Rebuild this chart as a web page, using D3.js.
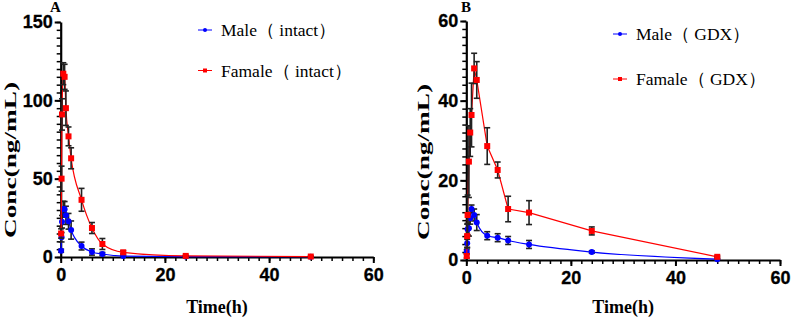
<!DOCTYPE html>
<html>
<head>
<meta charset="utf-8">
<script src="https://cdn.jsdelivr.net/npm/d3@7"></script>
<style>
  body { margin: 0; background: #fff; }
  .axis path, .axis line { stroke: #000; }
  .tick-label text { font-family: "Liberation Sans", Arial, sans-serif; font-weight: bold; font-size: 18px; fill: #000; stroke: #000; stroke-width: 0.3px; }
  .title { font-family: "Liberation Serif", "Times New Roman", serif; font-weight: bold; fill: #000; }
  .legend text { font-family: "Liberation Serif", "Times New Roman", serif; font-size: 17.5px; fill: #000; }
</style>
</head>
<body>
<div id="chart"></div>
<script>
// sampling times (h), same for both panels
const timePoints = [0.083, 0.167, 0.25, 0.5, 0.75, 1, 1.5, 2, 4, 6, 8, 12, 24, 48];

// panel A - intact rats
const maleIntact     = [4.0, 12.6, 22.5, 30.6, 30.4, 26.6, 22.8, 17.2, 7.0, 3.2, 1.9, 0.6, 0.3, 0.2];
const maleIntactSD   = [1.0, 3.0, 4.0, 5.0, 5.0, 5.8, 5.0, 5.8, 2.5, 2.0, 1.0, 0.3, 0.2, 0.1];
const femaleIntact   = [15, 50, 91, 117, 115, 95, 77, 63, 36.5, 18.5, 8.3, 3.0, 0.7, 0.3];
const femaleIntactSD = [3, 8, 10, 7, 8, 11, 6, 6.7, 7.3, 3.5, 3.5, 1.0, 0.4, 0.2];

// panel B - GDX rats
const maleGDX     = [2.1, 4.2, 7.7, 8.0, 10.5, 12.8, 11.3, 9.4, 6.1, 5.6, 4.9, 3.9, 2.0, 0.2];
const maleGDXSD   = [0.5, 1.0, 1.5, 2.0, 1.5, 1.0, 1.5, 2.0, 1.0, 1.0, 1.0, 1.0, 0.3, 0.1];
const femaleGDX   = [1.0, 6.0, 11.3, 24.7, 32.0, 36.4, 48.1, 45.2, 28.6, 22.6, 12.8, 11.9, 7.3, 0.8];
const femaleGDXSD = [0.5, 3, 5, 9, 6, 8, 3.8, 4.6, 4.6, 2.0, 3.2, 3.0, 1.0, 0.2];

// tick labels
const xTicks  = [0, 20, 40, 60];
const yTicksA = [0, 50, 100, 150];
const yTicksB = [0, 20, 40, 60];

const legendA = ["Male（ intact）", "Famale（ intact）"];
const legendB = ["Male（ GDX）", "Famale（ GDX）"];

const svg = d3.select("#chart").append("svg")
    .attr("width", 797)
    .attr("height", 317);

function drawPanel(cfg) {
    let x = d3.scaleLinear().domain([0, 60]).range([cfg.left, cfg.right]);
    let y = d3.scaleLinear().domain([0, cfg.yMax]).range([cfg.bottom, cfg.top]);

    let g = svg.append("g");

    // minor ticks
    g.append("g")
        .attr("class", "axis")
        .attr("transform", "translate(0," + cfg.bottom + ")")
        .call(d3.axisBottom(x).tickValues(d3.range(0, 61, 2)).tickSize(4).tickSizeOuter(0).tickFormat(""))
        .call(s => s.selectAll("line").attr("stroke-width", 1.5))
        .call(s => s.select(".domain").remove());

    g.append("g")
        .attr("class", "axis")
        .attr("transform", "translate(" + cfg.left + ",0)")
        .call(d3.axisLeft(y).tickValues(d3.range(0, cfg.yMax + 0.01, cfg.yMinor)).tickSize(4).tickSizeOuter(0).tickFormat(""))
        .call(s => s.selectAll("line").attr("stroke-width", 1.5))
        .call(s => s.select(".domain").remove());

    // major ticks + labels
    g.append("g")
        .attr("class", "axis tick-label")
        .attr("transform", "translate(0," + cfg.bottom + ")")
        .call(d3.axisBottom(x).tickValues(xTicks).tickSize(6).tickSizeOuter(0).tickPadding(5))
        .call(s => s.selectAll("line").attr("stroke-width", 2))
        .call(s => s.select(".domain").attr("stroke-width", 2.2));

    g.append("g")
        .attr("class", "axis tick-label")
        .attr("transform", "translate(" + cfg.left + ",0)")
        .call(d3.axisLeft(y).tickValues(cfg.yTicks).tickSize(6).tickSizeOuter(0).tickPadding(2))
        .call(s => s.selectAll("line").attr("stroke-width", 2))
        .call(s => s.select(".domain").attr("stroke-width", 2.2));

    // axis titles
    g.append("text")
        .attr("class", "title")
        .attr("x", (cfg.left + cfg.right) / 2)
        .attr("y", 313)
        .attr("text-anchor", "middle")
        .attr("font-size", 18)
        .text("Time(h)");

    g.append("text")
        .attr("class", "title")
        .attr("transform", "translate(" + cfg.yTitleX + "," + cfg.yTitleY + ") rotate(-90)")
        .attr("text-anchor", "middle")
        .attr("font-size", 17)
        .attr("textLength", 156)
        .attr("lengthAdjust", "spacingAndGlyphs")
        .text("Conc(ng/mL)");

    g.append("text")
        .attr("class", "title")
        .attr("x", cfg.letterX)
        .attr("y", 12)
        .attr("font-size", 15)
        .text(cfg.letter);

    cfg.series.forEach(function(sr) {
        let pts = timePoints.map((t, i) => ({t: t, v: sr.values[i], sd: sr.sd[i]}));

        let line = d3.line()
            .curve(sr.curve)
            .x(d => x(d.t))
            .y(d => y(d.v));

        g.append("path")
            .datum(pts)
            .attr("fill", "none")
            .attr("stroke", sr.color)
            .attr("stroke-width", 1.2)
            .attr("d", line);

        // error bars
        let eb = g.append("g").attr("stroke", "#222").attr("stroke-width", 1.6);
        pts.forEach(function(d) {
            let y1 = y(d.v + d.sd), y0 = y(Math.max(0, d.v - d.sd));
            eb.append("line").attr("x1", x(d.t)).attr("x2", x(d.t)).attr("y1", y1).attr("y2", y0);
            eb.append("line").attr("x1", x(d.t) - 3).attr("x2", x(d.t) + 3).attr("y1", y1).attr("y2", y1);
            eb.append("line").attr("x1", x(d.t) - 3).attr("x2", x(d.t) + 3).attr("y1", y0).attr("y2", y0);
        });

        if (sr.shape === "circle") {
            g.selectAll(null).data(pts).enter().append("circle")
                .attr("cx", d => x(d.t))
                .attr("cy", d => y(d.v))
                .attr("r", 3)
                .attr("fill", sr.color);
        } else {
            g.selectAll(null).data(pts).enter().append("rect")
                .attr("x", d => x(d.t) - 3)
                .attr("y", d => y(d.v) - 3)
                .attr("width", 6)
                .attr("height", 6)
                .attr("fill", sr.color);
        }
    });

    // legend
    let lg = g.append("g").attr("class", "legend");
    cfg.series.forEach(function(sr, i) {
        let ly = cfg.legendY[i];
        lg.append("line")
            .attr("x1", cfg.legendX).attr("x2", cfg.legendX + 14)
            .attr("y1", ly).attr("y2", ly)
            .attr("stroke", sr.color).attr("stroke-width", 1);
        if (sr.shape === "circle") {
            lg.append("circle").attr("cx", cfg.legendX + 7).attr("cy", ly).attr("r", 2).attr("fill", sr.color);
        } else {
            lg.append("rect").attr("x", cfg.legendX + 5).attr("y", ly - 2).attr("width", 4).attr("height", 4).attr("fill", sr.color);
        }
        lg.append("text")
            .attr("x", cfg.legendX + 23)
            .attr("y", ly)
            .attr("dominant-baseline", "central")
            .text(cfg.labels[i]);
    });
}

drawPanel({
    left: 60.7, right: 373.3, top: 22, bottom: 257,
    yMax: 150, yMinor: 5, yTicks: yTicksA,
    yTitleX: 16, yTitleY: 160,
    letter: "A", letterX: 50,
    legendX: 198, legendY: [30, 70.5], labels: legendA,
    series: [
        {values: maleIntact, sd: maleIntactSD, color: "#0000ff", shape: "circle", curve: d3.curveMonotoneX},
        {values: femaleIntact, sd: femaleIntactSD, color: "#ff0000", shape: "square", curve: d3.curveMonotoneX}
    ]
});

drawPanel({
    left: 466.3, right: 780, top: 21, bottom: 260,
    yMax: 60, yMinor: 2, yTicks: yTicksB,
    yTitleX: 429, yTitleY: 162,
    letter: "B", letterX: 461,
    legendX: 613, legendY: [34, 79], labels: legendB,
    series: [
        {values: maleGDX, sd: maleGDXSD, color: "#0000ff", shape: "circle", curve: d3.curveMonotoneX},
        {values: femaleGDX, sd: femaleGDXSD, color: "#ff0000", shape: "square", curve: d3.curveLinear}
    ]
});
</script>
</body>
</html>
